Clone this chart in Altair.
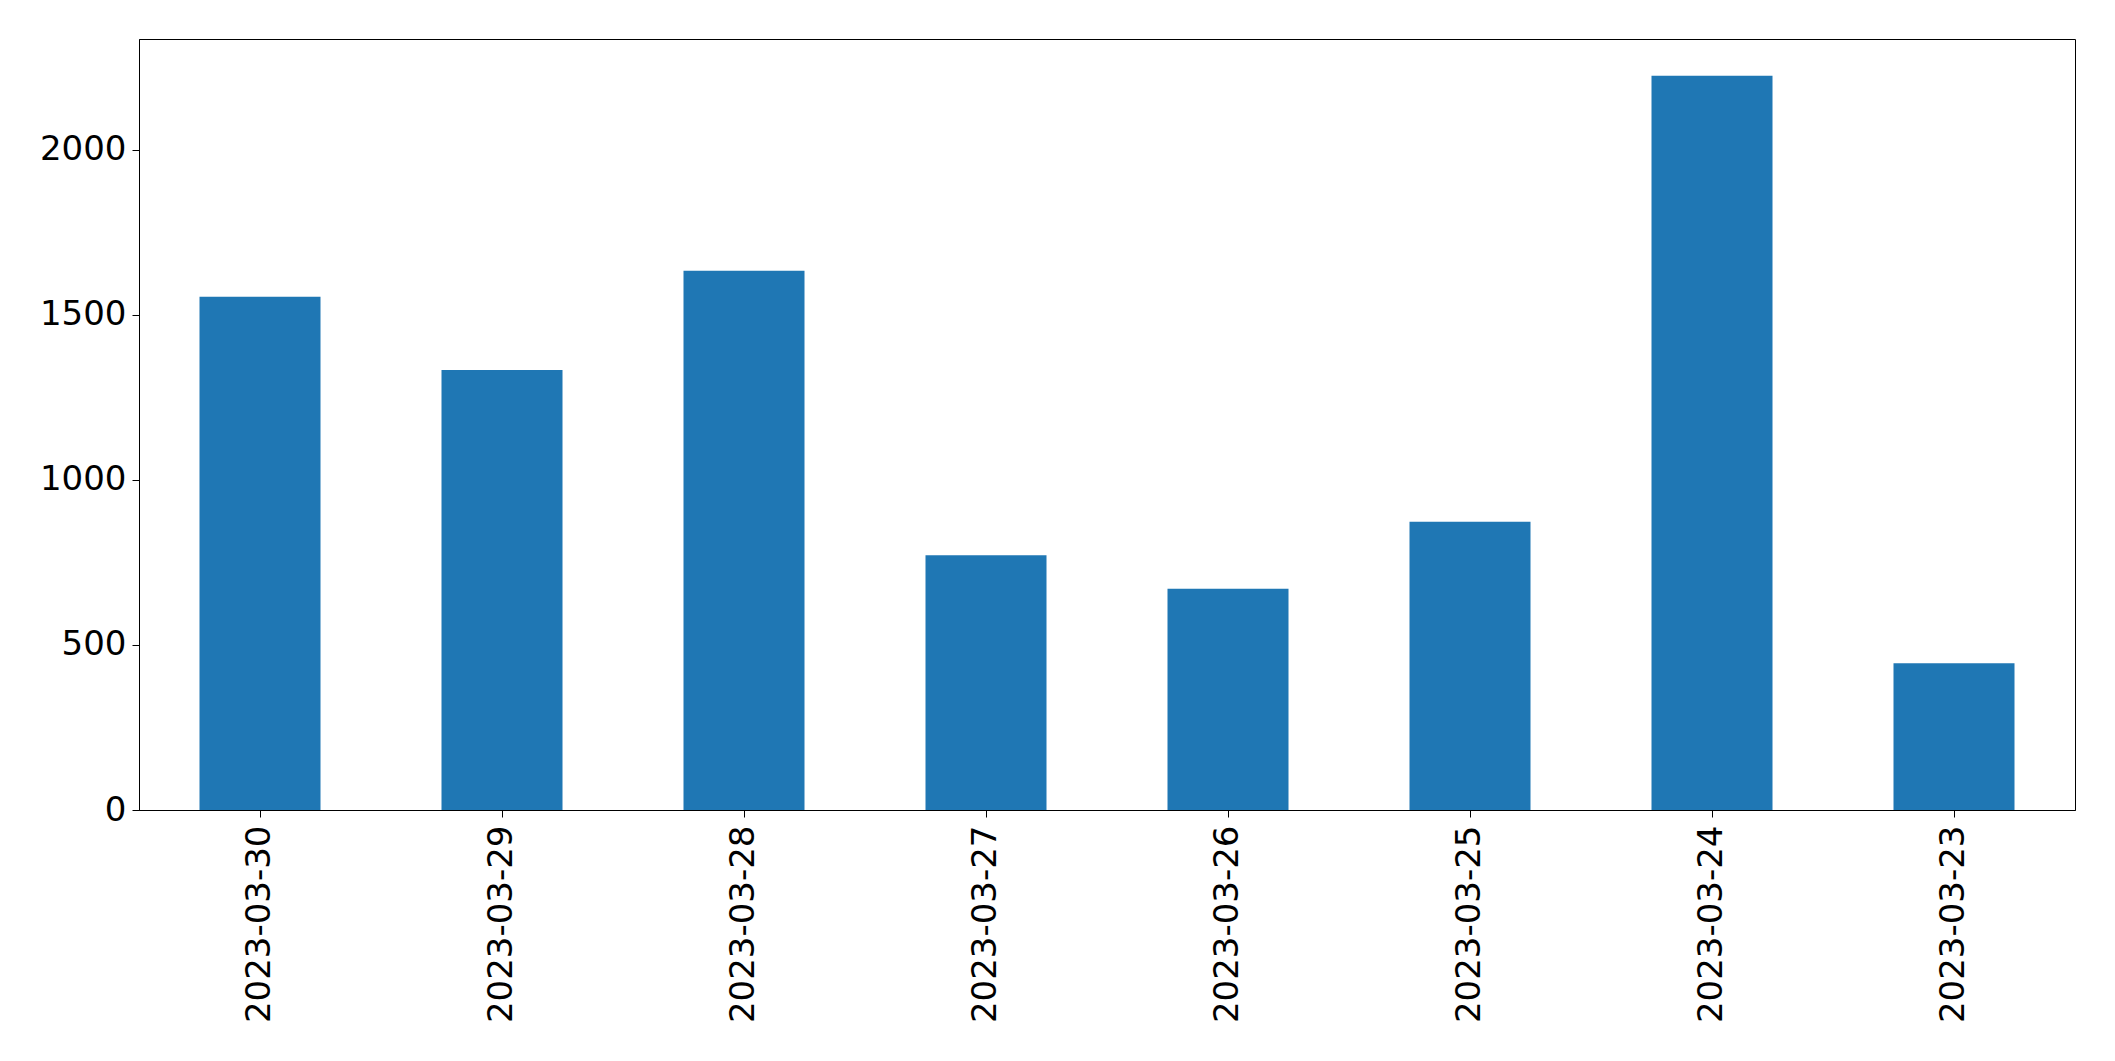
import altair as alt
import pandas as pd

dates = ["2023-03-30", "2023-03-29", "2023-03-28", "2023-03-27",
         "2023-03-26", "2023-03-25", "2023-03-24", "2023-03-23"]
values = [1555, 1333, 1634, 772, 670, 873, 2225, 445]

df = pd.DataFrame({"date": dates, "value": values})

FONT = "DejaVu Sans"

chart = alt.Chart(df).mark_bar(color="#1f77b4").encode(
    x=alt.X("date:N", sort=None, title=None,
            scale=alt.Scale(paddingInner=0.5, paddingOuter=0.25),
            axis=alt.Axis(labelAngle=-90, labelFontSize=34, labelFont=FONT,
                          labelColor="black", tickColor="black", tickSize=7,
                          domainColor="black", labelPadding=8, labelAlign="right",
                          labelBaseline="middle", labelLimit=0)),
    y=alt.Y("value:Q", title=None,
            scale=alt.Scale(domain=[0, 2336], nice=False),
            axis=alt.Axis(values=[0, 500, 1000, 1500, 2000], grid=False, format="d",
                          labelFontSize=34, labelFont=FONT, labelColor="black",
                          tickColor="black", tickSize=7, domainColor="black",
                          labelPadding=6)),
).properties(
    width=1936, height=771,
    padding={"left": 131, "top": 31, "right": 20, "bottom": 230},
    autosize="none",
).configure_view(stroke="black", strokeWidth=1)

chart.save("out.html", embed_options={"renderer": "svg", "actions": False})
